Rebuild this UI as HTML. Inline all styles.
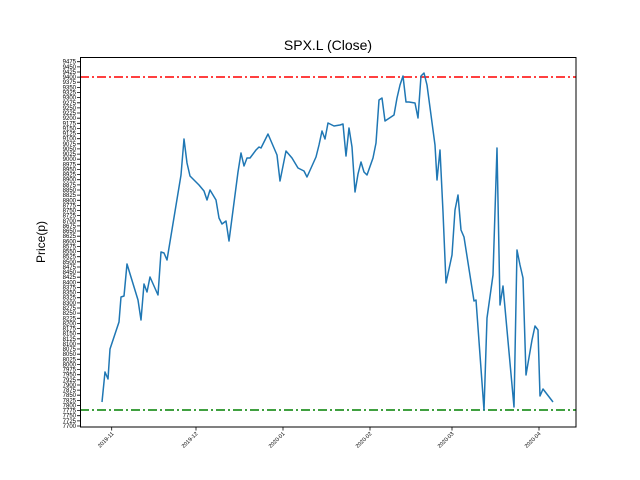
<!DOCTYPE html>
<html><head><meta charset="utf-8"><style>
body{margin:0;background:#fff}
svg{display:block;font-family:"Liberation Sans","DejaVu Sans",sans-serif}
</style></head><body>
<svg width="640" height="480" viewBox="0 0 640 480" xmlns="http://www.w3.org/2000/svg">
<rect width="640" height="480" fill="#fff"/>
<text x="328" y="50" font-size="14" text-anchor="middle">SPX.L (Close)</text>
<text transform="translate(45,242) rotate(-90)" font-size="12" text-anchor="middle">Price(p)</text>
<line x1="80" y1="77" x2="576" y2="77" stroke="#ff0000" stroke-width="1.5" stroke-dasharray="9,3,2,3"/>
<line x1="80" y1="410" x2="576" y2="410" stroke="#008000" stroke-width="1.5" stroke-dasharray="9,3,2,3"/>
<polyline fill="none" stroke="#1f77b4" stroke-width="1.5" stroke-linejoin="round" points="102,402 105,372 108,379 110,349 119,322 121,297 124,296 127,264 138,300 141,320 144,284 147,292 150,277 158,295 161,252 164,253 167,260 181,175 184,139 187,163 190,176 199,185 204,191 207,200 210,190 216,200 219,218 222,224 226,221 229,241 238,172 241,153 244,166 247,158 250,158 256,150 259,147 261,148 268,134 277,155 280,181 286,151 292,158 298,168 304,171 307,177 316,157 319,145 322,131 325,139 328,123 334,126 340,125 343,124 346,156 349,128 352,147 355,192 358,174 361,162 364,172 367,175 373,158 376,143 379,100 382,98 385,121 394,115 397,98 400,85 403,76 406,102 409,102 415,103 418,118 421,76 424,73 427,85 435,145 437,180 440,150 443,212 446,283 452,255 455,210 458,195 461,230 464,237 474,301 476,300 484,410 487,318 493,275 497,148 500,305 503,286 514,407 517,250 520,265 523,278 526,375 532,340 535,326 538,330 540,396 543,389 553,402"/>
<rect x="80.5" y="57.5" width="495.5" height="369.5" fill="none" stroke="#000" stroke-width="1"/>
<g stroke="#000" stroke-width="0.8">
<line x1="111.7" y1="427" x2="111.7" y2="430.5"/><line x1="196" y1="427" x2="196" y2="430.5"/><line x1="283" y1="427" x2="283" y2="430.5"/><line x1="370" y1="427" x2="370" y2="430.5"/><line x1="452" y1="427" x2="452" y2="430.5"/><line x1="539" y1="427" x2="539" y2="430.5"/>
</g>
<g font-size="5.5" text-anchor="end" fill="#000">
<text transform="translate(114,434) rotate(-45)">2019-11</text>
<text transform="translate(198,434) rotate(-45)">2019-12</text>
<text transform="translate(285,434) rotate(-45)">2020-01</text>
<text transform="translate(372,434) rotate(-45)">2020-02</text>
<text transform="translate(454,434) rotate(-45)">2020-03</text>
<text transform="translate(541,434) rotate(-45)">2020-04</text>
</g>
<g font-size="6" text-anchor="end" fill="#000" transform="translate(0,0)">
<g id="yt"></g>
<text x="76" y="428.0">7700</text><text x="76" y="422.9">7725</text><text x="76" y="417.7">7750</text><text x="76" y="412.6">7775</text><text x="76" y="407.5">7800</text><text x="76" y="402.4">7825</text><text x="76" y="397.2">7850</text><text x="76" y="392.1">7875</text><text x="76" y="387.0">7900</text><text x="76" y="381.8">7925</text><text x="76" y="376.7">7950</text><text x="76" y="371.6">7975</text><text x="76" y="366.4">8000</text><text x="76" y="361.3">8025</text><text x="76" y="356.2">8050</text><text x="76" y="351.0">8075</text><text x="76" y="345.9">8100</text><text x="76" y="340.8">8125</text><text x="76" y="335.7">8150</text><text x="76" y="330.5">8175</text><text x="76" y="325.4">8200</text><text x="76" y="320.3">8225</text><text x="76" y="315.1">8250</text><text x="76" y="310.0">8275</text><text x="76" y="304.9">8300</text><text x="76" y="299.7">8325</text><text x="76" y="294.6">8350</text><text x="76" y="289.5">8375</text><text x="76" y="284.3">8400</text><text x="76" y="279.2">8425</text><text x="76" y="274.1">8450</text><text x="76" y="269.0">8475</text><text x="76" y="263.8">8500</text><text x="76" y="258.7">8525</text><text x="76" y="253.6">8550</text><text x="76" y="248.4">8575</text><text x="76" y="243.3">8600</text><text x="76" y="238.2">8625</text><text x="76" y="233.0">8650</text><text x="76" y="227.9">8675</text><text x="76" y="222.8">8700</text><text x="76" y="217.6">8725</text><text x="76" y="212.5">8750</text><text x="76" y="207.4">8775</text><text x="76" y="202.3">8800</text><text x="76" y="197.1">8825</text><text x="76" y="192.0">8850</text><text x="76" y="186.9">8875</text><text x="76" y="181.7">8900</text><text x="76" y="176.6">8925</text><text x="76" y="171.5">8950</text><text x="76" y="166.3">8975</text><text x="76" y="161.2">9000</text><text x="76" y="156.1">9025</text><text x="76" y="150.9">9050</text><text x="76" y="145.8">9075</text><text x="76" y="140.7">9100</text><text x="76" y="135.6">9125</text><text x="76" y="130.4">9150</text><text x="76" y="125.3">9175</text><text x="76" y="120.2">9200</text><text x="76" y="115.0">9225</text><text x="76" y="109.9">9250</text><text x="76" y="104.8">9275</text><text x="76" y="99.6">9300</text><text x="76" y="94.5">9325</text><text x="76" y="89.4">9350</text><text x="76" y="84.2">9375</text><text x="76" y="79.1">9400</text><text x="76" y="74.0">9425</text><text x="76" y="68.9">9450</text><text x="76" y="63.7">9475</text>
</g>
<path stroke="#000" stroke-width="0.8" fill="none" d="M77,426H80.5M77,420.9H80.5M77,415.7H80.5M77,410.6H80.5M77,405.5H80.5M77,400.4H80.5M77,395.2H80.5M77,390.1H80.5M77,385H80.5M77,379.8H80.5M77,374.7H80.5M77,369.6H80.5M77,364.4H80.5M77,359.3H80.5M77,354.2H80.5M77,349H80.5M77,343.9H80.5M77,338.8H80.5M77,333.7H80.5M77,328.5H80.5M77,323.4H80.5M77,318.3H80.5M77,313.1H80.5M77,308H80.5M77,302.9H80.5M77,297.7H80.5M77,292.6H80.5M77,287.5H80.5M77,282.3H80.5M77,277.2H80.5M77,272.1H80.5M77,267H80.5M77,261.8H80.5M77,256.7H80.5M77,251.6H80.5M77,246.4H80.5M77,241.3H80.5M77,236.2H80.5M77,231H80.5M77,225.9H80.5M77,220.8H80.5M77,215.6H80.5M77,210.5H80.5M77,205.4H80.5M77,200.3H80.5M77,195.1H80.5M77,190H80.5M77,184.9H80.5M77,179.7H80.5M77,174.6H80.5M77,169.5H80.5M77,164.3H80.5M77,159.2H80.5M77,154.1H80.5M77,148.9H80.5M77,143.8H80.5M77,138.7H80.5M77,133.6H80.5M77,128.4H80.5M77,123.3H80.5M77,118.2H80.5M77,113H80.5M77,107.9H80.5M77,102.8H80.5M77,97.6H80.5M77,92.5H80.5M77,87.4H80.5M77,82.2H80.5M77,77.1H80.5M77,72H80.5M77,66.9H80.5M77,61.7H80.5"/>
</svg>
</body></html>
